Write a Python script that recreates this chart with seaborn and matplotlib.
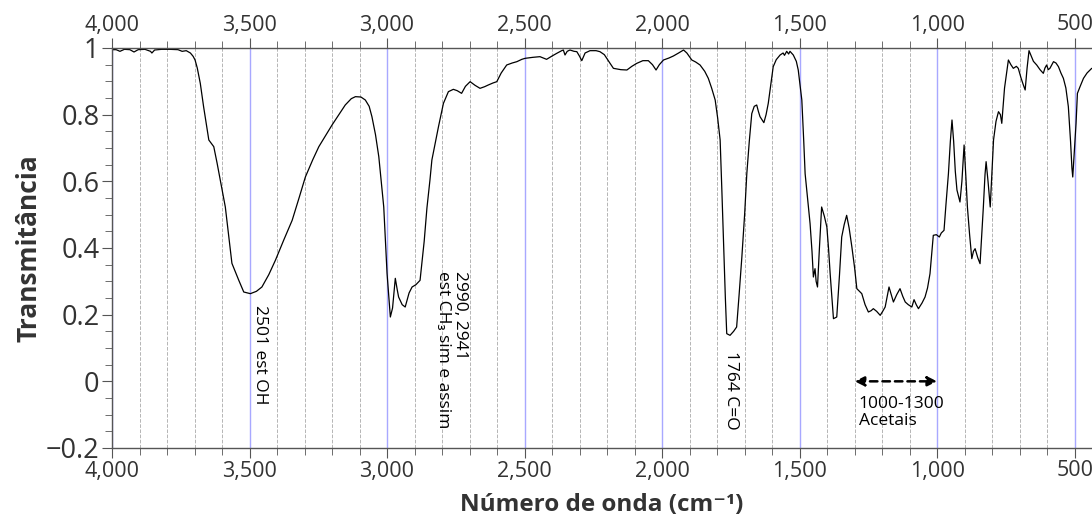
import numpy as np
import pandas as pd
import matplotlib
matplotlib.use('Agg')
import matplotlib.pyplot as plt
from matplotlib.ticker import MultipleLocator, FuncFormatter
import seaborn as sns

# espectro de IR
numero_onda = [4000, 3985, 3971, 3955, 3935, 3920, 3905, 3880, 3860, 3855, 3845, 3820, 3790, 3760,
               3745, 3730, 3715, 3705, 3698, 3690, 3679, 3667, 3648, 3630, 3618, 3588, 3564, 3539,
               3521, 3497, 3475, 3455, 3430, 3406, 3375, 3345, 3320, 3297, 3270, 3248, 3225, 3200,
               3175, 3152, 3130, 3115, 3095, 3079, 3065, 3055, 3042, 3030, 3012, 3000, 2988, 2980,
               2970, 2963, 2958, 2945, 2934, 2920, 2909, 2895, 2880, 2865, 2855, 2844, 2837, 2813,
               2795, 2777, 2759, 2745, 2729, 2715, 2698, 2680, 2662, 2645, 2632, 2615, 2601, 2585,
               2565, 2545, 2528, 2510, 2498, 2470, 2444, 2420, 2400, 2383, 2365, 2359, 2353, 2345,
               2335, 2320, 2310, 2300, 2292, 2280, 2262, 2240, 2226, 2210, 2201, 2190, 2177, 2150,
               2128, 2110, 2092, 2070, 2050, 2035, 2022, 2010, 1995, 1975, 1959, 1940, 1922, 1910,
               1892, 1878, 1862, 1845, 1832, 1820, 1807, 1798, 1789, 1783, 1777, 1770, 1765, 1753,
               1740, 1729, 1720, 1710, 1700, 1692, 1683, 1674, 1665, 1656, 1650, 1644, 1630, 1622,
               1614, 1605, 1596, 1585, 1571, 1560, 1555, 1547, 1540, 1535, 1523, 1512, 1505, 1497,
               1492, 1485, 1480, 1470, 1462, 1455, 1450, 1444, 1440, 1435, 1428, 1420, 1410, 1401,
               1395, 1389, 1377, 1365, 1355, 1347, 1338, 1329, 1320, 1310, 1300, 1292, 1274, 1262,
               1250, 1240, 1232, 1220, 1207, 1198, 1189, 1175, 1167, 1159, 1147, 1135, 1125, 1116,
               1105, 1092, 1084, 1076, 1068, 1055, 1044, 1035, 1026, 1020, 1014, 1003, 992, 985,
               975, 968, 959, 952, 946, 940, 934, 928, 917, 910, 902, 896, 890, 882,
               874, 868, 862, 852, 844, 838, 832, 826, 822, 815, 807, 800, 795, 786,
               777, 770, 765, 755, 741, 732, 723, 712, 705, 695, 687, 680, 673, 666,
               660, 650, 638, 626, 614, 608, 602, 596, 590, 583, 577, 568, 559, 550,
               541, 532, 523, 515, 510, 507, 502, 495, 490, 480, 468, 455, 438]
transmitancia = [0.995, 0.995, 0.99, 0.996, 0.995, 0.988, 0.995, 0.996, 0.99, 0.985, 0.994, 0.996, 0.996, 0.995,
                 0.99, 0.992, 0.985, 0.975, 0.964, 0.94, 0.894, 0.824, 0.724, 0.704, 0.655, 0.523, 0.354, 0.303,
                 0.268, 0.263, 0.27, 0.283, 0.32, 0.363, 0.425, 0.483, 0.55, 0.613, 0.665, 0.704, 0.735, 0.769,
                 0.80, 0.829, 0.848, 0.854, 0.853, 0.844, 0.825, 0.794, 0.74, 0.674, 0.523, 0.324, 0.193, 0.22,
                 0.309, 0.275, 0.253, 0.23, 0.223, 0.265, 0.283, 0.29, 0.303, 0.42, 0.52, 0.604, 0.664, 0.764,
                 0.834, 0.869, 0.876, 0.872, 0.864, 0.885, 0.899, 0.888, 0.879, 0.884, 0.889, 0.895, 0.899, 0.925,
                 0.949, 0.955, 0.959, 0.966, 0.969, 0.972, 0.974, 0.966, 0.976, 0.984, 0.992, 0.994, 0.979, 0.99,
                 0.994, 0.99, 0.989, 0.975, 0.962, 0.985, 0.992, 0.992, 0.989, 0.98, 0.969, 0.955, 0.939, 0.935,
                 0.934, 0.945, 0.954, 0.962, 0.962, 0.95, 0.934, 0.95, 0.964, 0.97, 0.976, 0.985, 0.994, 0.985,
                 0.964, 0.958, 0.949, 0.93, 0.909, 0.88, 0.844, 0.79, 0.724, 0.58, 0.423, 0.25, 0.143, 0.138,
                 0.15, 0.163, 0.26, 0.373, 0.5, 0.623, 0.72, 0.803, 0.825, 0.829, 0.81, 0.794, 0.776, 0.80,
                 0.834, 0.89, 0.944, 0.965, 0.979, 0.985, 0.978, 0.99, 0.982, 0.99, 0.979, 0.96, 0.934, 0.88,
                 0.844, 0.72, 0.623, 0.54, 0.473, 0.39, 0.313, 0.338, 0.30, 0.283, 0.40, 0.523, 0.495, 0.463,
                 0.40, 0.323, 0.188, 0.193, 0.32, 0.433, 0.47, 0.498, 0.46, 0.403, 0.34, 0.278, 0.263, 0.23,
                 0.208, 0.212, 0.218, 0.21, 0.198, 0.21, 0.223, 0.283, 0.26, 0.238, 0.26, 0.278, 0.255, 0.238,
                 0.23, 0.223, 0.245, 0.23, 0.218, 0.235, 0.253, 0.28, 0.323, 0.38, 0.438, 0.44, 0.433, 0.445,
                 0.453, 0.53, 0.623, 0.72, 0.784, 0.72, 0.63, 0.574, 0.538, 0.60, 0.709, 0.62, 0.523, 0.44,
                 0.368, 0.39, 0.398, 0.37, 0.353, 0.44, 0.523, 0.62, 0.659, 0.60, 0.523, 0.64, 0.724, 0.78,
                 0.809, 0.80, 0.774, 0.88, 0.964, 0.95, 0.939, 0.945, 0.939, 0.91, 0.89, 0.874, 0.94, 0.992,
                 0.98, 0.96, 0.949, 0.935, 0.924, 0.94, 0.949, 0.935, 0.939, 0.95, 0.959, 0.955, 0.944, 0.925,
                 0.909, 0.88, 0.824, 0.72, 0.64, 0.613, 0.68, 0.774, 0.864, 0.885, 0.909, 0.925, 0.939]

picos_texto = ['2501 est OH', '2990, 2941\nest CH₃ sim e assim', '1764 C=O']
picos_x = [3462, 2765, 1750]
picos_y = [0.23, 0.33, 0.09]
faixa_acetais = [1300, 1000]
faixa_texto = '1000-1300\nAcetais'

df = pd.DataFrame({'numero_onda': numero_onda, 'transmitancia': transmitancia})

sns.set_style('white')
plt.rcParams['font.family'] = ['Open Sans', 'DejaVu Sans']

fig = plt.figure(figsize=(10.92, 5.28), dpi=100)
ax = fig.add_axes([112 / 1092, 1 - 448 / 528, 1 - 112 / 1092, 400 / 528])

sns.lineplot(data=df, x='numero_onda', y='transmitancia', color='black', linewidth=0.9,
             estimator=None, sort=False, ax=ax)

ax.set_xlim(4000, 437)
ax.set_ylim(-0.2, 1.0)
ax.xaxis.set_major_locator(MultipleLocator(500))
ax.xaxis.set_minor_locator(MultipleLocator(100))
ax.yaxis.set_major_locator(MultipleLocator(0.2))
ax.yaxis.set_minor_locator(MultipleLocator(0.05))
ax.xaxis.set_major_formatter(FuncFormatter(lambda v, p: f'{v:,.0f}'))
ax.yaxis.set_major_formatter(FuncFormatter(lambda v, p: f'{v:g}'.replace('-', '\u2212') if abs(v) > 1e-9 else '0'))

ax.grid(which='major', axis='x', color='#a8a8ff', linewidth=1.0, linestyle='-')
ax.grid(which='minor', axis='x', color='#b5b5b5', linewidth=0.7, linestyle='--')
ax.grid(axis='y', visible=False)
ax.set_axisbelow(True)

for s in ['top', 'bottom', 'left']:
    ax.spines[s].set_color('#555555')
    ax.spines[s].set_linewidth(1.0)
ax.spines['right'].set_visible(False)

ax.tick_params(axis='x', which='both', top=True, bottom=True, labeltop=True, labelbottom=True,
               direction='out', colors='#555555', labelcolor='#333333', labelsize=15.5)
ax.tick_params(axis='x', which='major', length=7, pad=2)
ax.tick_params(axis='x', which='minor', length=5)
ax.tick_params(axis='y', which='both', left=True, direction='out', colors='#555555',
               labelcolor='#333333', labelsize=19.5)
ax.tick_params(axis='y', which='major', length=7, pad=2)
ax.tick_params(axis='y', which='minor', length=5)

ax.set_xlabel('Número de onda (cm⁻¹)', fontsize=17.5, fontweight='bold', color='#333333', labelpad=8)
ax.set_ylabel('Transmitância', fontsize=19, fontweight='bold', color='#333333', labelpad=2)

for txt, xv, yv in zip(picos_texto, picos_x, picos_y):
    ax.text(xv, yv, txt, rotation=270, ha='center', va='top', multialignment='left',
            fontsize=12.5, color='black', linespacing=1.05)

ax.annotate('', xy=(faixa_acetais[1], 0.0), xytext=(faixa_acetais[0], 0.0),
            arrowprops=dict(arrowstyle='<|-|>', linestyle=(0, (3, 2)), linewidth=1.8,
                            color='black', mutation_scale=14, shrinkA=0, shrinkB=0))
ax.text(faixa_acetais[0] - 15, -0.045, faixa_texto, ha='left', va='top', fontsize=12.5,
        color='black', linespacing=1.05)

fig.savefig('out.png', dpi=100)
